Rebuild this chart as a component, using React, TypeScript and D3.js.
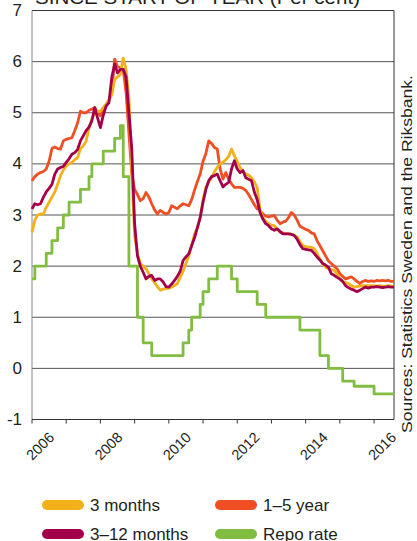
import React from "react";
import * as d3 from "d3";

// Monthly data, Jan 2006 – Aug 2016 (per cent)
const startYear = 2006;
const yearTicks = [2006, 2007, 2008, 2009, 2010, 2011, 2012, 2013, 2014, 2015, 2016];
const yearLabels = [2006, 2008, 2010, 2012, 2014, 2016];
const yTicks = [-1, 0, 1, 2, 3, 4, 5, 6, 7];

const threeMonths = [
  2.66, 2.9, 3.0, 3.02, 3.02, 3.15, 3.25, 3.35, 3.45, 3.6, 3.77, 3.88,
  3.96, 4.0, 4.03, 4.08, 4.12, 4.3, 4.35, 4.45, 4.7, 4.88, 5.0, 5.02,
  5.03, 5.1, 5.17, 5.25, 5.35, 5.65, 5.7, 5.75, 6.07, 5.85, 5.3, 3.9,
  2.6, 2.25, 2.05, 2.0, 1.95, 1.85, 1.75, 1.68, 1.6, 1.53, 1.55, 1.56,
  1.57, 1.59, 1.62, 1.66, 1.78, 1.9, 2.05, 2.2, 2.4, 2.62, 2.75, 2.95,
  3.3, 3.54, 3.65, 3.73, 3.85, 3.93, 4.0, 4.03, 4.08, 4.15, 4.29, 4.16,
  4.05, 3.93, 3.85, 3.8, 3.78, 3.73, 3.65, 3.54, 3.1, 2.95, 2.88, 2.83,
  2.8, 2.79, 2.72, 2.66, 2.65, 2.64, 2.63, 2.63, 2.6, 2.57, 2.48, 2.4,
  2.38, 2.37, 2.37, 2.34, 2.25, 2.14, 2.05, 1.98, 1.95, 1.93, 1.92, 1.85,
  1.75, 1.7, 1.68, 1.66, 1.62, 1.59, 1.6, 1.61, 1.62, 1.62, 1.62, 1.62,
  1.62, 1.61, 1.62, 1.61, 1.61, 1.62, 1.61, 1.61,
];

const oneToFiveYear = [
  3.67, 3.75, 3.8, 3.83, 3.85, 3.9, 4.05, 4.3, 4.33, 4.3, 4.29, 4.45,
  4.48, 4.5, 4.51, 4.65, 4.8, 5.03, 5.0, 5.0, 5.05, 5.07, 5.1, 5.0,
  4.94, 5.05, 5.13, 5.25, 5.42, 6.05, 5.9, 5.88, 5.85, 5.4, 4.6, 3.8,
  3.5, 3.4, 3.28, 3.32, 3.44, 3.35, 3.22, 3.1, 3.02, 3.09, 3.05, 3.02,
  3.05, 3.18, 3.15, 3.12, 3.18, 3.22, 3.2, 3.18, 3.3, 3.48, 3.65, 3.8,
  4.05, 4.2, 4.45, 4.4, 4.32, 4.29, 3.9, 3.7, 3.83, 3.7, 3.61, 3.54,
  3.54, 3.54, 3.52, 3.48, 3.4, 3.3, 3.2, 3.12, 3.09, 3.02, 2.98, 2.96,
  2.98, 2.99, 2.9, 2.83, 2.86, 2.88, 2.95, 3.05, 3.0, 2.9, 2.78, 2.75,
  2.72, 2.7, 2.65, 2.63, 2.5, 2.4, 2.3, 2.2, 2.1, 2.05, 2.0, 1.95,
  1.85, 1.8, 1.75, 1.77, 1.79, 1.75, 1.7, 1.66, 1.7, 1.72, 1.7, 1.71,
  1.7, 1.72, 1.71, 1.72, 1.71, 1.72, 1.7, 1.7,
];

const threeToTwelveMonths = [
  3.12, 3.22, 3.2, 3.22, 3.35, 3.45, 3.52, 3.6, 3.8, 3.9, 3.93, 3.95,
  4.03, 4.1, 4.19, 4.22, 4.28, 4.45, 4.55, 4.65, 4.72, 4.84, 5.1, 4.9,
  4.71, 4.95, 5.13, 5.2, 5.7, 5.95, 5.78, 5.85, 5.85, 5.7, 5.0, 4.3,
  2.83, 2.2, 2.0, 1.88, 1.75, 1.8, 1.82, 1.72, 1.75, 1.75, 1.69, 1.6,
  1.59, 1.65, 1.72, 1.8, 1.9, 2.11, 2.18, 2.24, 2.4, 2.55, 2.75, 2.95,
  3.25, 3.5, 3.67, 3.75, 3.77, 3.8, 3.67, 3.55, 3.6, 3.64, 3.9, 4.06,
  3.9, 3.83, 3.87, 3.73, 3.7, 3.67, 3.45, 3.3, 3.05, 2.92, 2.83, 2.79,
  2.73, 2.7, 2.73, 2.68, 2.63, 2.63, 2.63, 2.62, 2.6, 2.53, 2.42, 2.34,
  2.33, 2.32, 2.31, 2.25, 2.18, 2.12, 2.05, 2.02, 1.98, 1.85, 1.82, 1.78,
  1.75, 1.7, 1.62, 1.58, 1.55, 1.53, 1.5, 1.53, 1.56, 1.59, 1.57, 1.59,
  1.59, 1.6, 1.59, 1.58, 1.59, 1.6, 1.59, 1.59,
];

const repoRate = [
  1.75, 2.0, 2.0, 2.0, 2.0, 2.25, 2.25, 2.5, 2.5, 2.75, 2.75, 3.0,
  3.0, 3.25, 3.25, 3.25, 3.25, 3.5, 3.5, 3.5, 3.75, 4.0, 4.0, 4.0,
  4.0, 4.25, 4.25, 4.25, 4.25, 4.5, 4.5, 4.75, 3.75, 3.75, 2.0, 2.0,
  2.0, 1.0, 1.0, 0.5, 0.5, 0.5, 0.25, 0.25, 0.25, 0.25, 0.25, 0.25,
  0.25, 0.25, 0.25, 0.25, 0.25, 0.5, 0.5, 0.75, 1.0, 1.0, 1.0, 1.25,
  1.5, 1.5, 1.75, 1.75, 1.75, 2.0, 2.0, 2.0, 2.0, 2.0, 1.75, 1.75,
  1.5, 1.5, 1.5, 1.5, 1.5, 1.5, 1.5, 1.25, 1.25, 1.25, 1.0, 1.0,
  1.0, 1.0, 1.0, 1.0, 1.0, 1.0, 1.0, 1.0, 1.0, 1.0, 0.75, 0.75,
  0.75, 0.75, 0.75, 0.75, 0.75, 0.25, 0.25, 0.25, 0.0, 0.0, 0.0, 0.0,
  0.0, -0.25, -0.25, -0.25, -0.25, -0.35, -0.35, -0.35, -0.35, -0.35, -0.35, -0.35,
  -0.5, -0.5, -0.5, -0.5, -0.5, -0.5, -0.5, -0.5,
];

const seriesNames = ["3 months", "1–5 year", "3–12 months", "Repo rate"];
const seriesColors = ["#f2b11b", "#f04e23", "#a2004b", "#80bd41"];

const FONT = "'Liberation Sans', Arial, sans-serif";

export default function App() {
  const W = 417;
  const H = 541;
  const n = threeMonths.length;
  const x = d3
    .scaleLinear()
    .domain([startYear, startYear + (n - 1) / 12])
    .range([32, 394]);
  const y = d3.scaleLinear().domain([-1, 7]).range([419.5, 10.5]);

  const t = (i: number) => startYear + i / 12;
  const line = d3
    .line<number>()
    .x((_, i) => x(t(i)))
    .y((d) => y(d));
  const stepLine = d3
    .line<number>()
    .x((_, i) => x(t(i)))
    .y((d) => y(d))
    .curve(d3.curveStepAfter);

  const [x0, x1] = x.range();
  const yTop = y(7);
  const yBot = y(-1);

  const drawOrder: [number[], number, boolean][] = [
    [repoRate, 3, true],
    [oneToFiveYear, 1, false],
    [threeMonths, 0, false],
    [threeToTwelveMonths, 2, false],
  ];

  const legend = [
    { name: seriesNames[0], color: seriesColors[0], sx: 47, tx: 90, cy: 505 },
    { name: seriesNames[1], color: seriesColors[1], sx: 220, tx: 263, cy: 505 },
    { name: seriesNames[2], color: seriesColors[2], sx: 47, tx: 90, cy: 534 },
    { name: seriesNames[3], color: seriesColors[3], sx: 220, tx: 263, cy: 534 },
  ];

  return (
    <svg
      width={W}
      height={H}
      style={{ position: "absolute", left: 0, top: 0, background: "#fff" }}
      fontFamily={FONT}
    >
      <rect x={0} y={0} width={W} height={H} fill="#fff" />
      {/* clipped title */}
      <text x={35} y={4} fontSize={18} fill="#231f20" textLength={325} lengthAdjust="spacingAndGlyphs">
        SINCE START OF YEAR (Per cent)
      </text>

      {/* gridlines */}
      {yTicks
        .filter((v) => v > -1 && v < 7)
        .map((v) => (
          <line key={"g" + v} x1={x0} x2={x1} y1={y(v)} y2={y(v)} stroke="#555" strokeWidth={1} />
        ))}

      {/* frame */}
      <line x1={x0} x2={x1} y1={yTop} y2={yTop} stroke="#333" strokeWidth={1} />
      <line x1={x1} x2={x1} y1={yTop} y2={yBot} stroke="#333" strokeWidth={1} />
      <line x1={x0} x2={x0} y1={yTop} y2={yBot} stroke="#888" strokeWidth={1} />
      <line x1={x0} x2={x1} y1={yBot} y2={yBot} stroke="#333" strokeWidth={1} />

      {/* x ticks */}
      {yearTicks.map((yr) => (
        <line key={"t" + yr} x1={x(yr)} x2={x(yr)} y1={yBot} y2={yBot + 4} stroke="#333" strokeWidth={1} />
      ))}
      {yearLabels.map((yr) => (
        <text
          key={"xl" + yr}
          transform={`translate(${x(yr) + 9},${447}) rotate(-45)`}
          textAnchor="middle"
          dominantBaseline="middle"
          fontSize={14.5}
          fill="#231f20"
        >
          {yr}
        </text>
      ))}

      {/* y labels */}
      {yTicks.map((v) => (
        <text
          key={"yl" + v}
          x={22}
          y={y(v)}
          textAnchor="end"
          dominantBaseline="central"
          fontSize={17}
          fill="#231f20"
        >
          {v}
        </text>
      ))}

      {/* series */}
      {drawOrder.map(([data, ci, step]) => (
        <path
          key={"s" + ci}
          d={(step ? stepLine : line)(data) || ""}
          fill="none"
          stroke={seriesColors[ci]}
          strokeWidth={2.8}
          strokeLinejoin="round"
        />
      ))}

      {/* source */}
      <text
        transform={`translate(412,433) rotate(-90)`}
        fontSize={15}
        fill="#231f20"
        textLength={358}
        lengthAdjust="spacingAndGlyphs"
      >
        Sources: Statistics Sweden and the Riksbank.
      </text>

      {/* legend */}
      {legend.map((l) => (
        <g key={l.name}>
          <line
            x1={l.sx}
            x2={l.sx + 32}
            y1={l.cy}
            y2={l.cy}
            stroke={l.color}
            strokeWidth={10}
            strokeLinecap="round"
          />
          <text x={l.tx} y={l.cy} dominantBaseline="central" fontSize={17} fill="#231f20">
            {l.name}
          </text>
        </g>
      ))}
    </svg>
  );
}
